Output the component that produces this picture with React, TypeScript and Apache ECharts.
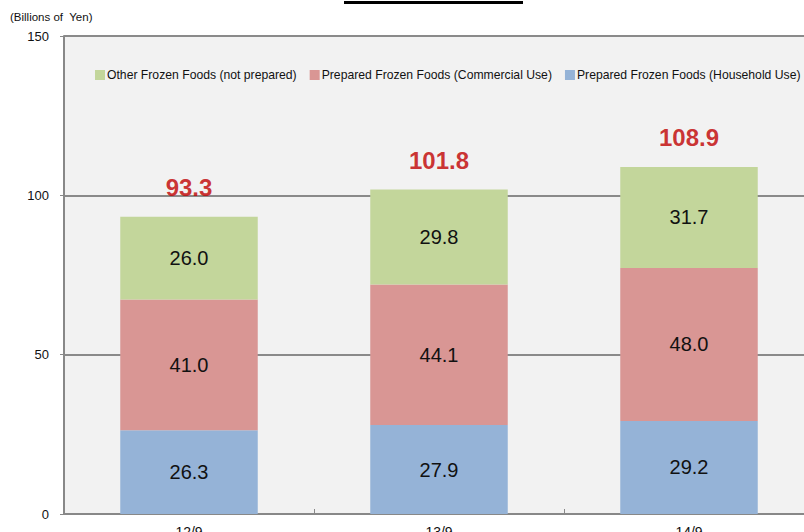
import React, { useEffect, useRef } from "react";
import * as echarts from "echarts";

const categories = ["12/9", "13/9", "14/9"];
const household = [26.3, 27.9, 29.2];
const commercial = [41.0, 44.1, 48.0];
const otherFrozen = [26.0, 29.8, 31.7];
const totals = [93.3, 101.8, 108.9];
const yTicks = [0, 50, 100, 150];

const seriesNames = [
  "Other Frozen Foods (not prepared)",
  "Prepared Frozen Foods (Commercial Use)",
  "Prepared Frozen Foods (Household Use)",
];

export default function App() {
  const ref = useRef<HTMLDivElement>(null);
  useEffect(() => {
    if (!ref.current) return;
    const chart = echarts.init(ref.current, undefined, { renderer: "svg" });
    const font = "'Liberation Sans', Arial, sans-serif";
    const innerLabel = {
      show: true,
      position: "inside",
      color: "#111",
      fontSize: 20,
      fontFamily: font,
      formatter: (p: any) => Number(p.value).toFixed(1),
    };
    chart.setOption({
      animation: false,
      backgroundColor: "#ffffff",
      textStyle: { fontFamily: font },
      legend: {
        data: seriesNames,
        left: 90,
        top: 64,
        width: 760,
        itemWidth: 10,
        itemHeight: 10,
        itemGap: 13,
        icon: "rect",
        textStyle: { fontSize: 12.2, color: "#111", fontFamily: font, padding: [0, 0, 0, -3] },
      },
      grid: {
        left: 64,
        right: -10,
        top: 36,
        bottom: 18,
        containLabel: false,
        outerBoundsMode: "none",
        show: true,
        backgroundColor: "#f2f2f2",
        borderWidth: 0,
      },
      xAxis: {
        type: "category",
        data: categories,
        axisLine: { show: true, lineStyle: { color: "#888888", width: 2 } },
        axisTick: { show: true, inside: true, length: 5, lineStyle: { color: "#888888", width: 1 } },
        axisLabel: { fontSize: 14, color: "#111", margin: 11, fontFamily: font },
      },
      yAxis: {
        type: "value",
        min: yTicks[0],
        max: yTicks[yTicks.length - 1],
        interval: 50,
        axisLine: { show: true, lineStyle: { color: "#888888", width: 2 } },
        axisTick: { show: true, length: 4, lineStyle: { color: "#888888" } },
        axisLabel: { fontSize: 13, color: "#111", margin: 15, fontFamily: font },
        splitLine: { show: true, lineStyle: { color: "#8a8a8a", width: 2 } },
      },
      series: [
        {
          name: seriesNames[2],
          type: "bar",
          stack: "total",
          barWidth: "55%",
          data: household,
          itemStyle: { color: "#95b3d7" },
          label: innerLabel,
        },
        {
          name: seriesNames[1],
          type: "bar",
          stack: "total",
          data: commercial,
          itemStyle: { color: "#d99694" },
          label: innerLabel,
        },
        {
          name: seriesNames[0],
          type: "bar",
          stack: "total",
          data: otherFrozen,
          itemStyle: { color: "#c3d69b" },
          label: innerLabel,
        },
        {
          name: "Total",
          type: "scatter",
          data: totals,
          symbolSize: 1,
          itemStyle: { color: "rgba(0,0,0,0)" },
          label: {
            show: true,
            position: "top",
            distance: 17,
            color: "#c00000",
            fontSize: 24,
            fontWeight: "bold",
            fontFamily: font,
            formatter: (p: any) => Number(p.value).toFixed(1),
          },
          z: 10,
        },
      ],
      graphic: [
        {
          type: "text",
          left: 10,
          top: 11,
          style: { text: "(Billions of  Yen)", fontSize: 11.5, fill: "#111", fontFamily: font },
        },
        {
          type: "line",
          shape: { x1: 344, y1: 2.5, x2: 523, y2: 2.5 },
          style: { stroke: "#000", lineWidth: 3 },
        },
      ],
    });
    return () => chart.dispose();
  }, []);
  return <div ref={ref} style={{ width: 804, height: 532, position: "absolute", left: 0, top: 0 }} />;
}
